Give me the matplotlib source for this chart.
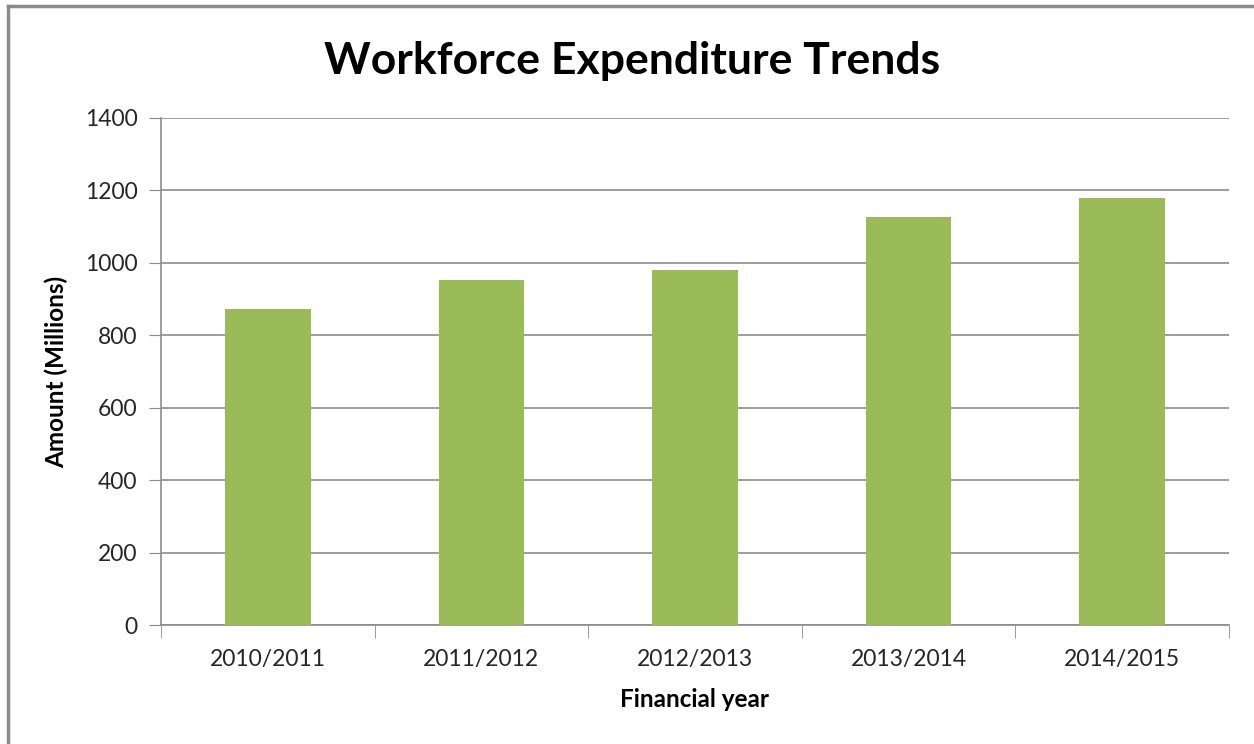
import matplotlib
matplotlib.use("Agg")
import matplotlib.pyplot as plt
from matplotlib.lines import Line2D

years = ["2010/2011", "2011/2012", "2012/2013", "2013/2014", "2014/2015"]
amounts = [873, 952, 980, 1128, 1178]
yticks = [0, 200, 400, 600, 800, 1000, 1200, 1400]

plt.rcParams['font.family'] = ['Lato', 'DejaVu Sans']

fig = plt.figure(figsize=(12.54, 7.44), dpi=100)
ax = fig.add_axes([0.1284, 0.1599, 0.8516, 0.6815])

x = list(range(len(years)))
ax.bar(x, amounts, width=0.4, color="#9bbb59", zorder=3)

ax.set_xlim(-0.5, len(years) - 0.5)
ax.set_ylim(0, 1400)
ax.set_yticks(yticks)
ax.set_xticks(x)
ax.set_xticklabels(years)
ax.set_xticks([i - 0.5 for i in range(len(years) + 1)], minor=True)

ax.grid(axis="y", color="#8c8c8c", linewidth=1.2, zorder=0)
for s in ["top", "right"]:
    ax.spines[s].set_visible(False)
for s in ["left", "bottom"]:
    ax.spines[s].set_color("#8c8c8c")
    ax.spines[s].set_linewidth(1.2)

ax.tick_params(axis="y", length=9, color="#8c8c8c", labelsize=16.5, pad=8, labelcolor="#262626")
ax.tick_params(axis="x", which="major", length=0, labelsize=16.5, pad=17, labelcolor="#262626")
ax.tick_params(axis="x", which="minor", length=9, color="#8c8c8c")

ax.set_xlabel("Financial year", fontsize=17.5, fontweight="bold", labelpad=13)
ax.set_ylabel("Amount (Millions)", fontsize=17.5, fontweight="bold", labelpad=12)

fig.text(0.504, 0.918, "Workforce Expenditure Trends", ha="center", va="center",
         fontsize=32, fontweight="bold")

# chart area border (top and left visible)
fig.add_artist(Line2D([8 / 1254, 1.0], [1 - 6 / 744, 1 - 6 / 744], color="#8c8c8c", linewidth=2.5))
fig.add_artist(Line2D([8 / 1254, 8 / 1254], [0.0, 1 - 6 / 744], color="#8c8c8c", linewidth=2.5))

fig.savefig("out.png", dpi=100)
